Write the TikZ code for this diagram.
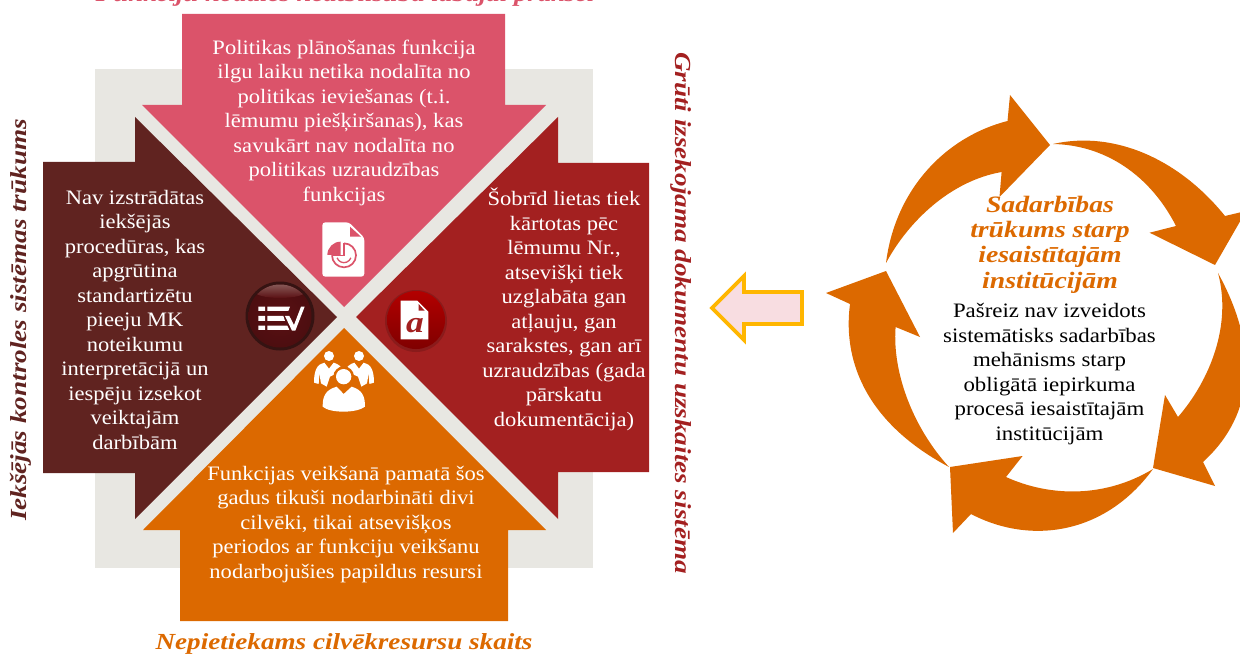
\documentclass[tikz,border=0pt]{standalone}
\usepackage{fontspec}
\setmainfont{Liberation Serif}
\newfontfamily\bodyfont[FakeStretch=1.1]{Liberation Serif}
\newfontfamily\blackfont[FakeStretch=1.115]{Liberation Serif}
\newfontfamily\headfont[FakeStretch=1.18]{Liberation Serif}
\newfontfamily\topfont[FakeStretch=1.165]{Liberation Serif}
\definecolor{rosec}{HTML}{DB536A}
\definecolor{maroonc}{HTML}{602320}
\definecolor{burgc}{HTML}{A32020}
\definecolor{tangc}{HTML}{DC6900}
\definecolor{yellc}{HTML}{FFB600}
\definecolor{grayc}{HTML}{E8E7E2}
\definecolor{palep}{HTML}{F8DDE1}
\definecolor{btnc}{HTML}{5A1013}
\tikzset{
 x=1pt,y=-1pt,
 bodytext/.style={align=center,text=white,font=\bodyfont\fontsize{20.5}{24.5}\selectfont,inner sep=0pt},
 blacktext/.style={align=center,text=black,font=\blackfont\fontsize{20.5}{24.5}\selectfont,inner sep=0pt},
 headlabel/.style={align=center,inner sep=0pt,font=\headfont\bfseries\itshape\fontsize{23}{25}\selectfont},
 cyc/.style={fill=tangc},
 iconz/.style={shift={(230,210)},x=1/3*1pt,y=-1/3*1pt},
}
\begin{document}
\begin{tikzpicture}
\useasboundingbox (0,0) rectangle (1240,655);
\clip (0,0) rectangle (1240,655);
\fill[grayc] (95,69) rectangle (593,568);
% four block arrows
\fill[rosec] (182,14)--(505,14)--(505,105)--(546,105)--(344,307)--(142,105)--(182,105)--cycle;
\fill[maroonc] (43,162)--(135,162)--(135,117)--(337,317)--(135,519)--(135,473)--(43,473)--cycle;
\fill[burgc] (649,163)--(558,163)--(558,117)--(356,317)--(558,519)--(558,472)--(649,472)--cycle;
\fill[tangc] (180,621)--(508,621)--(508,530)--(546,530)--(344,328)--(143,530)--(180,530)--cycle;
% texts
\node[bodytext] (tpink) at (344,122.5) {Politikas plānošanas funkcija\\ilgu laiku netika nodalīta no\\politikas ieviešanas (t.i.\\lēmumu piešķiršanas), kas\\savukārt nav nodalīta no\\politikas uzraudzības\\funkcijas};
\node[bodytext] (tmar) at (135,319.5) {Nav izstrādātas\\iekšējās\\procedūras, kas\\apgrūtina\\standartizētu\\pieeju MK\\noteikumu\\interpretācijā un\\iespēju izsekot\\veiktajām\\darbībām};
\node[bodytext] (tbur) at (564,309.5) {Šobrīd lietas tiek\\kārtotas pēc\\lēmumu Nr.,\\atsevišķi tiek\\uzglabāta gan\\atļauju, gan\\sarakstes, gan arī\\uzraudzības (gada\\pārskatu\\dokumentācija)};
\node[bodytext] (tora) at (346,524.5) {Funkcijas veikšanā pamatā šos\\gadus tikuši nodarbināti divi\\cilvēki, tikai atsevišķos\\periodos ar funkciju veikšanu\\nodarbojušies papildus resursi};
% outside labels
\node[headlabel,text=rosec,anchor=base,font=\topfont\bfseries\itshape\fontsize{23}{25}\selectfont] (ltop) at (345,2) {Funkciju nodales neatbilstība labajai praksei};
\node[headlabel,text=tangc] (lbot) at (344,644) {Nepietiekams cilvēkresursu skaits};
\node[headlabel,text=maroonc,rotate=90] (lleft) at (21,320) {Iekšējās kontroles sistēmas trūkums};
\node[headlabel,text=burgc,rotate=-90] (lright) at (681,313) {Grūti izsekojama dokumentu uzskaites sistēma};
% pie doc icon
\begin{scope}[iconz]
 \fill[white,rounded corners=3pt] (277,37)--(357,37)--(403,83)--(403,200)--(277,200)--cycle;
 \fill[rosec] (360,50)--(393,80)--(360,80)--cycle;
 \fill[rosec] (332,135)--(292,135) arc[start angle=180,end angle=270,radius=40]--cycle;
 \draw[rosec,line width=1.7pt] (342,100) arc[start angle=-90,end angle=180,radius=36];
 \draw[rosec,line width=1.3pt] (342,100)--(342,136)--(306,136);
 \draw[rosec,line width=1.3pt] (321.3,143.5) arc[start angle=160,end angle=20,radius=22];
\end{scope}
% checklist button
\fill[black!45!maroonc] (280,316) circle[radius=34.5];
\shade[inner color=btnc,outer color=btnc!85!black] (280,316) circle[radius=31.5];
\begin{scope}
 \clip (280,316) circle[radius=31.5];
 \shade[top color=white!25!maroonc,bottom color=btnc] (280,291) ellipse[x radius=26,y radius=7];
\end{scope}
\begin{scope}[iconz]
 \fill[white] (85,290) rectangle (105,303) (85,318) rectangle (105,333) (85,347) rectangle (105,360);
 \fill[white] (112,290)--(180,290)--(175,303)--(112,303)--cycle;
 \fill[white] (112,318)--(160,318)--(165,333)--(112,333)--cycle;
 \fill[white] (112,347)--(172,347)--(178,360)--(112,360)--cycle;
 \fill[white] (165,318)--(178,318)--(192,345)--(213,290)--(224,290)--(196,362)--(186,362)--cycle;
\end{scope}
% document button
\fill[burgc!85!black] (416,321) circle[radius=31];
\shade[top color=red!70!black,bottom color=red!50!black] (416,320) circle[radius=29];
\begin{scope}[iconz]
 \fill[white] (512,272)--(562,272)--(595,305)--(595,388)--(512,388)--cycle;
 \fill[burgc] (566,282)--(584,302)--(566,302)--cycle;
\end{scope}
\node[inner sep=0pt,text=burgc,font=\headfont\bfseries\itshape\fontsize{30}{30}\selectfont] (aglyph) at (415,326) {a};
% people icon
\begin{scope}[iconz]
 \fill[white] (297,438) circle[radius=15] (387,438) circle[radius=15];
 \fill[white] (252,518) .. controls (252,480) and (262,462) .. (283,458) -- (297,476) -- (311,458) .. controls (325,462) and (335,470) .. (338,482) -- (300,500) -- (290,530) -- (273,520) -- (268,490) -- (266,522) -- cycle;
 \fill[white] (432,518) .. controls (432,480) and (422,462) .. (401,458) -- (387,476) -- (373,458) .. controls (360,462) and (350,470) .. (345,482) -- (384,500) -- (394,530) -- (411,520) -- (416,490) -- (418,522) -- cycle;
 \fill[tangc] (341,500) circle[radius=31];
 \fill[white] (341,500) circle[radius=23];
 \fill[tangc] (278,605) -- (278,540) -- (341,525) -- (405,540) -- (405,605) -- cycle;
 \fill[white] (278,590) .. controls (278,560) and (285,540) .. (320,530) -- (341,552) -- (365,530) .. controls (398,540) and (405,560) .. (405,590) .. controls (380,610) and (300,610) .. (278,590) -- cycle;
\end{scope}
% pointing arrow
\draw[yellc,line width=3.8pt,fill=palep,miter limit=10] (712,308)--(744,276)--(744,292)--(802,292)--(802,324)--(744,324)--(744,340)--cycle;
% cycle arrows
\fill[cyc] (886,263) .. controls (895,190) and (945,137) .. (1007.5,121) -- (1010,95) -- (1050,145) -- (999.5,197) -- (1001.6,172) .. controls (950,181) and (908,222) .. (886,263) -- cycle;
\fill[cyc] (1053,144) .. controls (1115,130) and (1180,160) .. (1225,216) -- (1246,211) -- (1215,265) -- (1149.6,232.7) -- (1176,226) .. controls (1150,175) and (1105,145) .. (1053,144) -- cycle;
\fill[cyc] (1218,273) .. controls (1255,340) and (1260,410) .. (1203,462) -- (1215,486) -- (1153,468) -- (1165,395) -- (1178,417) .. controls (1210,380) and (1232,325) .. (1218,273) -- cycle;
\fill[cyc] (1153,469) .. controls (1105,535) and (1030,545) .. (971,514) -- (953,533) -- (950,467) -- (1022.6,456) -- (1006,477) .. controls (1050,497) and (1105,498) .. (1153,469) -- cycle;
\fill[cyc] (949,467) .. controls (870,425) and (842,365) .. (850,304) -- (826,293) -- (886,271) -- (920,337) -- (895.6,327) .. controls (892,375) and (915,430) .. (949,467) -- cycle;
% cycle text
\node[headlabel,text=tangc,font=\headfont\bfseries\itshape\fontsize{23.5}{25.3}\selectfont] (tcych) at (1050,244.5) {Sadarbības\\trūkums starp\\iesaistītajām\\institūcijām};
\node[blacktext] (tcyc) at (1049.5,374) {Pašreiz nav izveidots\\sistemātisks sadarbības\\mehānisms starp\\obligātā iepirkuma\\procesā iesaistītajām\\institūcijām};
\end{tikzpicture}
\end{document}
